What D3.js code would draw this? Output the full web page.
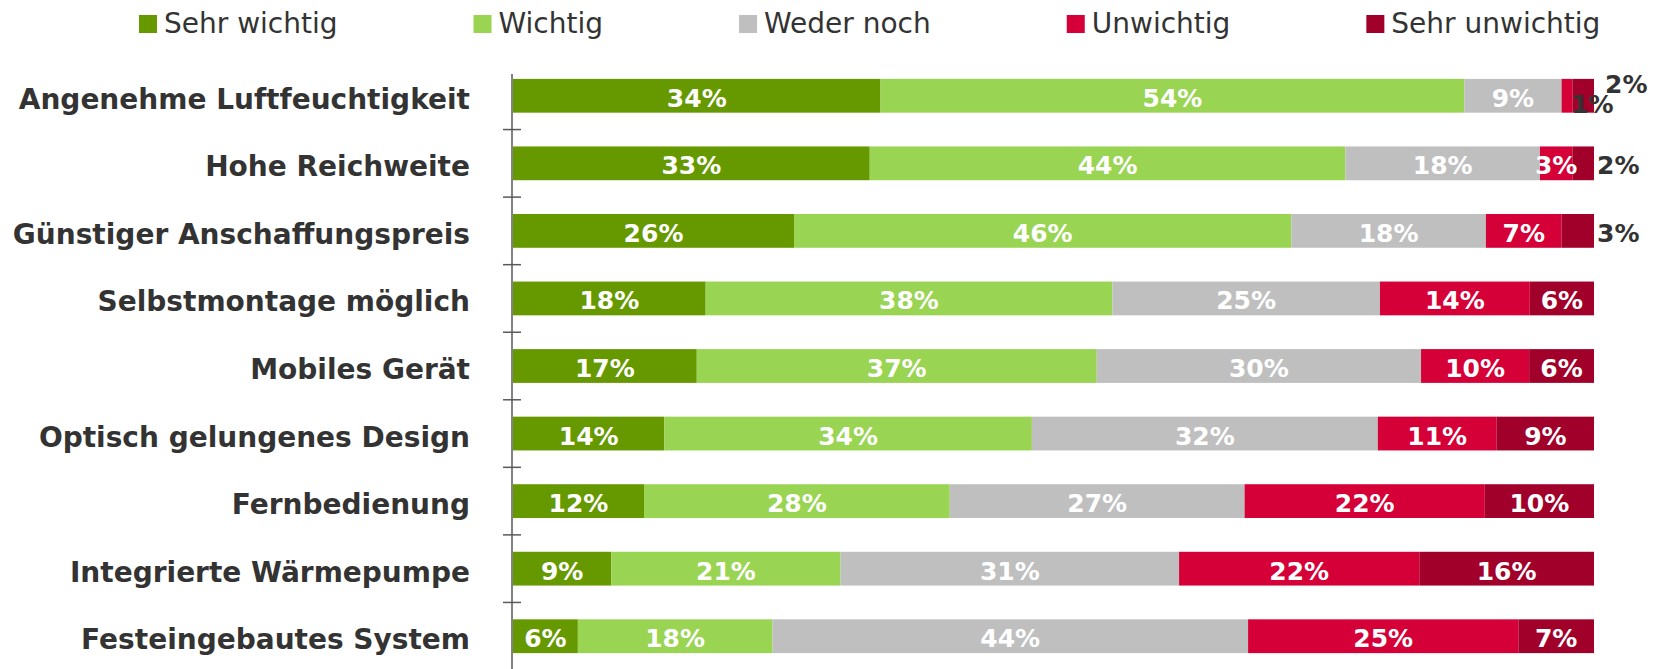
<!DOCTYPE html>
<html lang="de">
<head>
    <meta charset="UTF-8">
    <script src="https://cdn.jsdelivr.net/npm/d3@7/dist/d3.min.js"></script>
    <title>Wichtigkeit</title>
    <style>
        body { margin: 0; background: #fff; }
        text { font-family: "DejaVu Sans", Verdana, sans-serif; }
    </style>
</head>
<body>
<script>
    var categories = ["Angenehme Luftfeuchtigkeit", "Hohe Reichweite", "Günstiger Anschaffungspreis",
        "Selbstmontage möglich", "Mobiles Gerät", "Optisch gelungenes Design", "Fernbedienung",
        "Integrierte Wärmepumpe", "Festeingebautes System"];
    var seriesNames = ["Sehr wichtig", "Wichtig", "Weder noch", "Unwichtig", "Sehr unwichtig"];
    var sehrWichtig = [34, 33, 26, 18, 17, 14, 12, 9, 6];
    var wichtig = [54, 44, 46, 38, 37, 34, 28, 21, 18];
    var wederNoch = [9, 18, 18, 25, 30, 32, 27, 31, 44];
    var unwichtig = [1, 3, 7, 14, 10, 11, 22, 22, 25];
    var sehrUnwichtig = [2, 2, 3, 6, 6, 9, 10, 16, 7];
    var colors = ["#669900", "#99d452", "#bfbfbf", "#d50037", "#a0002a"];

    var width = 1653, height = 669;
    var seriesValues = [sehrWichtig, wichtig, wederNoch, unwichtig, sehrUnwichtig];

    // Zeilen fuer d3.stack aufbauen
    var rows = categories.map(function (c, i) {
        var r = { cat: c };
        seriesNames.forEach(function (s, j) { r[s] = seriesValues[j][i]; });
        return r;
    });

    var stack = d3.stack().keys(seriesNames).offset(d3.stackOffsetExpand);
    var layers = stack(rows);

    var svg = d3.select("body").append("svg")
        .attr("width", width)
        .attr("height", height);

    var x = d3.scaleLinear().domain([0, 1]).range([513, 1594]);
    var y = d3.scaleBand().domain(categories).range([62, 670])
        .paddingInner(0.5).paddingOuter(0.25);

    var color = d3.scaleOrdinal().domain(seriesNames).range(colors);

    // Balken
    var g = svg.selectAll("g.layer")
        .data(layers)
        .enter()
        .append("g")
        .attr("class", "layer")
        .attr("fill", d => color(d.key));

    g.selectAll("rect")
        .data(d => d)
        .enter()
        .append("rect")
        .attr("x", d => x(d[0]))
        .attr("y", d => y(d.data.cat))
        .attr("width", d => x(d[1]) - x(d[0]))
        .attr("height", y.bandwidth());

    // Achse mit Teilstrichen zwischen den Kategorien
    svg.append("line")
        .attr("x1", 512).attr("x2", 512)
        .attr("y1", 74).attr("y2", height)
        .attr("stroke", "#595959").attr("stroke-width", 1.5);

    svg.selectAll("line.tick")
        .data(categories.slice(1))
        .enter()
        .append("line")
        .attr("class", "tick")
        .attr("x1", 503).attr("x2", 521)
        .attr("y1", d => y(d) - y.step() * y.paddingInner() / 2)
        .attr("y2", d => y(d) - y.step() * y.paddingInner() / 2)
        .attr("stroke", "#595959").attr("stroke-width", 1.5);

    // Kategorien
    svg.selectAll("text.cat")
        .data(categories)
        .enter()
        .append("text")
        .attr("class", "cat")
        .attr("x", 470)
        .attr("y", d => y(d) + y.bandwidth() / 2 + 13)
        .attr("text-anchor", "end")
        .attr("font-size", 28)
        .attr("font-weight", "bold")
        .attr("fill", "#333333")
        .text(d => d);

    // Werte-Beschriftungen
    var labels = [];
    layers.forEach(function (layer, j) {
        layer.forEach(function (d, i) {
            var v = seriesValues[j][i];
            var cy = y(d.data.cat) + y.bandwidth() / 2;
            var lab = { text: v + "%", x: (x(d[0]) + x(d[1])) / 2, y: cy + 11, anchor: "middle", fill: "#ffffff" };
            var last = j === seriesNames.length - 1;
            if (last && v <= 3) {
                lab.x = x(d[1]) + 3; lab.anchor = "start"; lab.fill = "#333333";
                if (seriesValues[j - 1][i] <= 2) { lab.x += 8; lab.y = cy - 3; }
            } else if (j === seriesNames.length - 2 && v <= 2) {
                lab.x = x(d[1]) + 20; lab.fill = "#333333"; lab.y = cy + 17;
            }
            labels.push(lab);
        });
    });

    svg.selectAll("text.val")
        .data(labels)
        .enter()
        .append("text")
        .attr("class", "val")
        .attr("x", d => d.x)
        .attr("y", d => d.y)
        .attr("text-anchor", d => d.anchor)
        .attr("font-size", 25)
        .attr("font-weight", "bold")
        .attr("fill", d => d.fill)
        .text(d => d.text);

    // Legende
    var legend = svg.append("g");
    var lx = 139;
    seriesNames.forEach(function (s, j) {
        legend.append("rect")
            .attr("x", lx).attr("y", 15)
            .attr("width", 18).attr("height", 18)
            .attr("fill", colors[j]);
        var t = legend.append("text")
            .attr("x", lx + 25).attr("y", 33)
            .attr("font-size", 28)
            .attr("fill", "#333333")
            .text(s);
        lx += 25 + t.node().getComputedTextLength() + 136;
    });
</script>
</body>
</html>
